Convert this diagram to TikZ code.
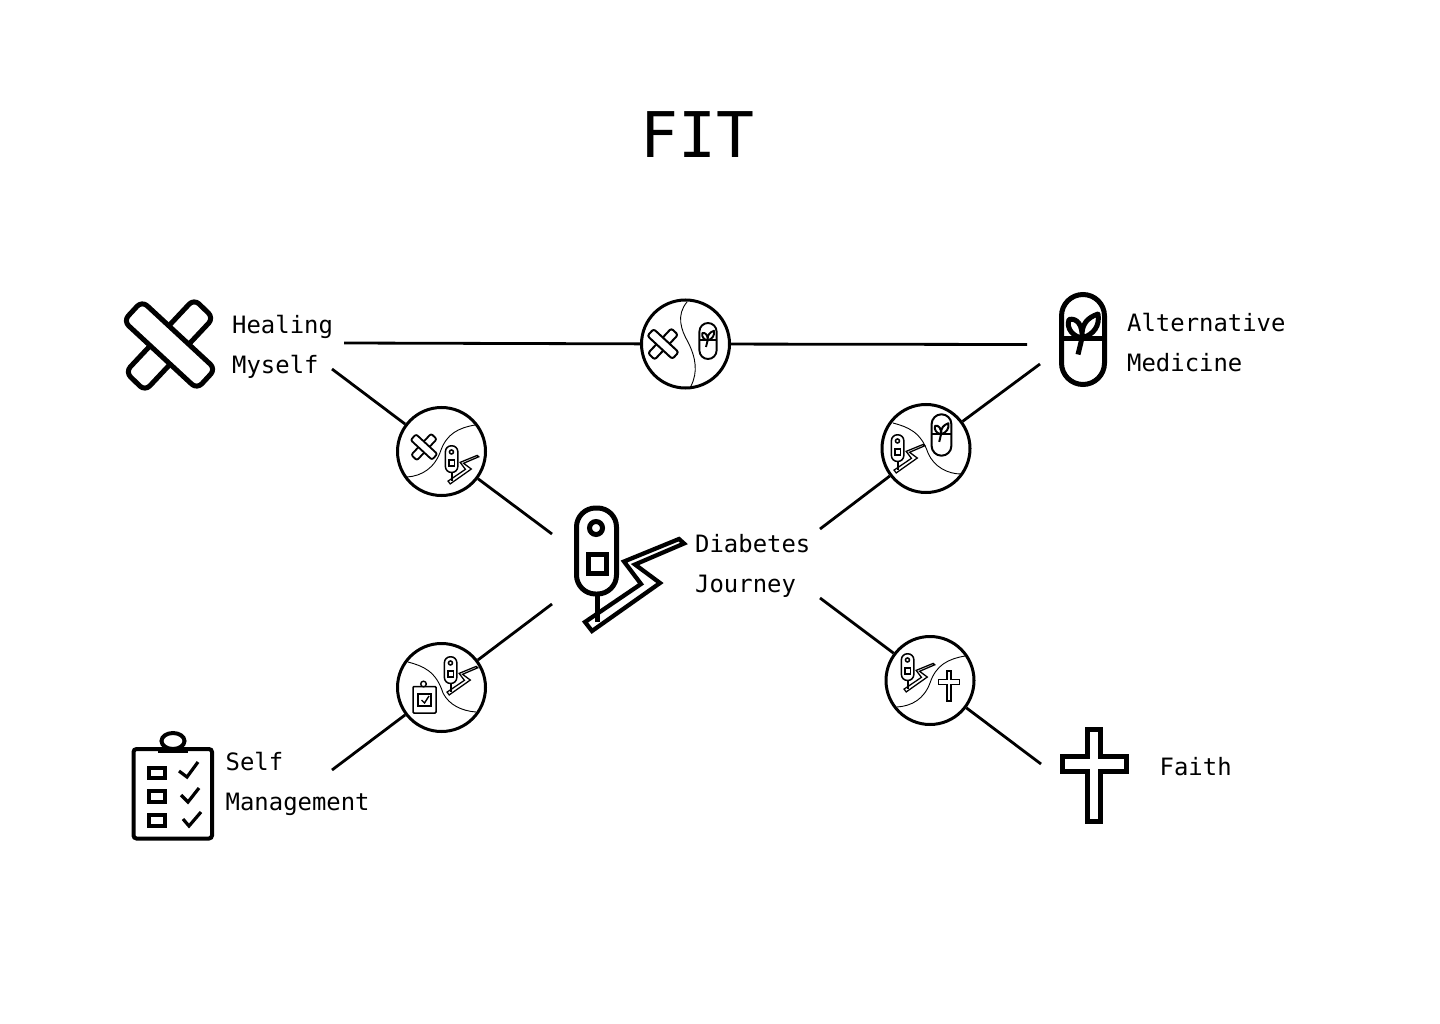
\documentclass[tikz,border=0pt]{standalone}
\usepackage{fontspec}
\newfontfamily\monof{DejaVu Sans Mono}
\newcommand{\iconbandage}[4]{%
\pgfmathsetlengthmacro\rr{7*#3}%
\begin{scope}[shift={(#1,#2)},scale=#3,line width=#4pt,rounded corners=\rr,fill=white,line join=round]
\filldraw (24.5,-46)--(44,-27)--(-24.5,46)--(-44,27)--cycle;
\filldraw (-46,-24)--(-27.5,-44)--(46,24)--(27.5,44)--cycle;
\end{scope}}
\newcommand{\iconpill}[4]{%
\pgfmathsetlengthmacro\rr{21.5*#3}%
\begin{scope}[shift={(#1,#2)},scale=#3,line width=#4pt]
\draw[rounded corners=\rr] (-21.5,-45)--(21.5,-45)--(21.5,45)--(-21.5,45)--cycle;
\draw (-21.5,-1.5)--(21.5,-1.5);
\draw[line join=round] (-1,-1.5) .. controls (-10,-3) and (-17,-11) .. (-14,-20) .. controls (-6,-22) and (0,-14) .. (-1,-1.5) .. controls (-2,-16) and (5,-22) .. (15,-25.5) .. controls (17,-14) and (11,-5) .. (-1,-1.5);
\draw (-1,-1.5)--(-5,15);
\end{scope}}
\newcommand{\icondevice}[4]{%
\pgfmathsetlengthmacro\rr{19*#3}%
\begin{scope}[shift={(#1,#2)},scale=#3,line width=#4pt]
\draw (-33,23.5)--(-33,52);
\draw[miter limit=10,line width=0.85*#4pt] (-6,-8.5)--(49,-31)--(54,-26.5)--(5,-5.5)--(30,13)--(-38,61)--(-45,52)--(11,14)--cycle;
\draw[rounded corners=\rr,fill=white] (-53.5,-62)--(-13.5,-62)--(-13.5,24)--(-53.5,24)--cycle;
\draw (-34,-42) circle[radius=6.5];
\draw (-42,-16) rectangle (-24,3);
\end{scope}}
\newcommand{\iconcross}[4]{%
\begin{scope}[shift={(#1,#2)},scale=#3,line width=#4pt,miter limit=10]
\draw (-6.5,-46.5)--(6.5,-46.5)--(6.5,-20)--(32,-20)--(32,-5)--(6.5,-5)--(6.5,45.5)--(-6.5,45.5)--(-6.5,-5)--(-32,-5)--(-32,-20)--(-6.5,-20)--cycle;
\end{scope}}
\tikzset{
  hub/.style={circle,draw,line width=3pt,minimum size=88pt,inner sep=0pt},
  conn/.style={line width=2.8pt},
  lab/.style={font=\monof\fontsize{23.9}{40}\selectfont,align=left,inner sep=0pt,anchor=base west},
  seam/.style={line width=0.9pt}
}
\begin{document}
\begin{tikzpicture}[x=1pt,y=-1pt]
\useasboundingbox[fill=white] (0,0) rectangle (1440,1024);
\node[lab,font=\monof\fontsize{63}{63}\selectfont] (title) at (640,158) {FIT};
% hubs
\node[hub] (h1) at (685.5,344) {};
\node[hub] (h2) at (441.5,451.5) {};
\node[hub] (h3) at (926,448.5) {};
\node[hub] (h4) at (441.5,687.5) {};
\node[hub] (h5) at (930,680.5) {};
% free ends
\coordinate (a1) at (344,343);
\coordinate (a2) at (1027,344.5);
\coordinate (b1) at (332,369);
\coordinate (b2) at (552,534);
\coordinate (c1) at (1040,364);
\coordinate (c2) at (820,529);
\coordinate (d1) at (552,604);
\coordinate (d2) at (332,770);
\coordinate (e1) at (820,598);
\coordinate (e2) at (1041,764);
\draw[conn] (a1)--(h1); \draw[conn] (h1)--(a2);
\draw[conn] (b1)--(h2); \draw[conn] (h2)--(b2);
\draw[conn] (c1)--(h3); \draw[conn] (h3)--(c2);
\draw[conn] (d1)--(h4); \draw[conn] (h4)--(d2);
\draw[conn] (e1)--(h5); \draw[conn] (h5)--(e2);
% labels
\node[lab] (healing) at (232,373.5) {Healing\\Myself};
\node[lab] (altmed) at (1127,371.5) {Alternative\\Medicine};
\node[lab] (journey) at (695,592.5) {Diabetes\\Journey};
\node[lab] (selfm) at (225.5,810.5) {Self\\Management};
\node[lab] (faith) at (1159.5,775.5) {Faith};
% large icons
\iconbandage{169.5}{345}{1}{5}
\iconpill{1083}{339.5}{1}{5}
\icondevice{630}{570}{1}{5}
\iconcross{1094}{776}{1}{5}
% clipboard
\begin{scope}[line width=4pt]
\draw[rounded corners=3pt] (133.5,749)--(212,749)--(212,838.5)--(133.5,838.5)--cycle;
\draw[fill=white] (173,741) ellipse[x radius=11.5,y radius=8];
\draw[line width=5pt] (158,750)--(188,750);
\draw (149,767.5) rectangle (165,778);
\draw (149,791) rectangle (165,802);
\draw (149,814.5) rectangle (165,825.5);
\draw[line width=3.2pt] (179,771)--(187,777)--(198,762);
\draw[line width=3.2pt] (181,795)--(188,802)--(199,788);
\draw[line width=3.2pt] (183,819)--(189,826)--(201,812);
\end{scope}
% h1
\draw[seam] (687,302) .. controls (676,315) and (681,330) .. (688,342) .. controls (696,358) and (698,372) .. (691,386);
\iconbandage{663}{344}{0.34}{2}
\iconpill{708}{341}{0.4}{1.9}
% h2
\draw[seam] (475,425) .. controls (458,428) and (447,434) .. (441,450) .. controls (435,468) and (422,476) .. (407,477);
\iconbandage{424}{447}{0.29}{1.8}
\icondevice{462}{465}{0.31}{1.5}
% h3
\draw[seam] (893,423) .. controls (908,427) and (921,432) .. (928,453) .. controls (934,467) and (948,474) .. (961,474);
\icondevice{908}{454}{0.31}{1.5}
\iconpill{941.5}{435}{0.46}{2}
% h4
\draw[seam] (408,662) .. controls (423,666) and (436,671) .. (443,693) .. controls (449,705) and (462,711) .. (476,712);
\icondevice{461}{676}{0.31}{1.5}
\draw[line width=1.5pt,rounded corners=1pt] (413,686.5) rectangle (436,713);
\draw[line width=1.4pt,fill=white] (423.5,684) circle[radius=2.8];
\draw[line width=1.4pt] (418,694) rectangle (431,706);
\draw[line width=1.4pt] (421.5,700)--(424.5,703)--(429,696);
% h5
\draw[seam] (965,656) .. controls (948,659) and (936,665) .. (930,683) .. controls (924,699) and (912,706) .. (897,707);
\icondevice{918}{673}{0.31}{1.5}
\iconcross{949}{686}{0.33}{1.7}
\end{tikzpicture}
\end{document}
